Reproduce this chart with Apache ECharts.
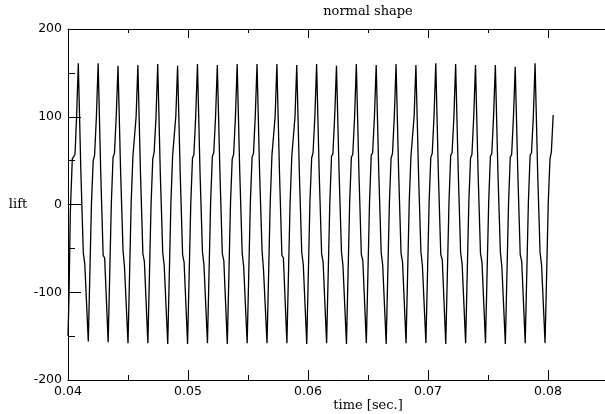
<!DOCTYPE html>
<html>
<head>
<meta charset="utf-8">
<script src="https://cdn.jsdelivr.net/npm/echarts@6/dist/echarts.min.js"></script>
<style>
html,body{margin:0;padding:0;background:#fff;}
#chart{width:605px;height:414px;}
</style>
</head>
<body>
<div id="chart"></div>
<script>
// time axis [s]
var xMin = 0.04, xMax = 0.09, xStep = 0.01;
var yMin = -200, yMax = 200, yStep = 100;
var chartTitle = 'normal shape';
var xName = 'time [sec.]';
var yName = 'lift';

// time samples [s]
var times = [
  0.040000, 0.040083, 0.040192, 0.040358, 0.040583, 0.040717,
  0.040858, 0.041075, 0.041275, 0.041400, 0.041691, 0.041958, 0.042100, 0.042216, 0.042366,
  0.042513, 0.042730, 0.042930, 0.043055, 0.043346, 0.043613, 0.043755, 0.043871, 0.044021,
  0.044168, 0.044385, 0.044585, 0.044710, 0.045001, 0.045268, 0.045410, 0.045526, 0.045676,
  0.045823, 0.046040, 0.046240, 0.046365, 0.046656, 0.046923, 0.047065, 0.047181, 0.047331,
  0.047478, 0.047695, 0.047895, 0.048020, 0.048311, 0.048578, 0.048720, 0.048836, 0.048986,
  0.049133, 0.049350, 0.049550, 0.049675, 0.049966, 0.050233, 0.050375, 0.050491, 0.050641,
  0.050788, 0.051005, 0.051205, 0.051330, 0.051621, 0.051888, 0.052030, 0.052146, 0.052296,
  0.052443, 0.052660, 0.052860, 0.052985, 0.053276, 0.053543, 0.053685, 0.053801, 0.053951,
  0.054098, 0.054315, 0.054515, 0.054640, 0.054931, 0.055198, 0.055340, 0.055456, 0.055606,
  0.055753, 0.055970, 0.056170, 0.056295, 0.056586, 0.056853, 0.056995, 0.057111, 0.057261,
  0.057408, 0.057625, 0.057825, 0.057950, 0.058241, 0.058508, 0.058650, 0.058766, 0.058916,
  0.059063, 0.059280, 0.059480, 0.059605, 0.059896, 0.060163, 0.060305, 0.060421, 0.060571,
  0.060718, 0.060935, 0.061135, 0.061260, 0.061551, 0.061818, 0.061960, 0.062076, 0.062226,
  0.062373, 0.062590, 0.062790, 0.062915, 0.063206, 0.063473, 0.063615, 0.063731, 0.063881,
  0.064028, 0.064245, 0.064445, 0.064570, 0.064861, 0.065128, 0.065270, 0.065386, 0.065536,
  0.065683, 0.065900, 0.066100, 0.066225, 0.066516, 0.066783, 0.066925, 0.067041, 0.067191,
  0.067338, 0.067555, 0.067755, 0.067880, 0.068171, 0.068438, 0.068580, 0.068696, 0.068846,
  0.068993, 0.069210, 0.069410, 0.069535, 0.069826, 0.070093, 0.070235, 0.070351, 0.070501,
  0.070648, 0.070865, 0.071065, 0.071190, 0.071481, 0.071748, 0.071890, 0.072006, 0.072156,
  0.072303, 0.072520, 0.072720, 0.072845, 0.073136, 0.073403, 0.073545, 0.073661, 0.073811,
  0.073958, 0.074175, 0.074375, 0.074500, 0.074791, 0.075058, 0.075200, 0.075316, 0.075466,
  0.075613, 0.075830, 0.076030, 0.076155, 0.076446, 0.076713, 0.076855, 0.076971, 0.077121,
  0.077268, 0.077485, 0.077685, 0.077810, 0.078101, 0.078368, 0.078510, 0.078626, 0.078776,
  0.078923, 0.079140, 0.079340, 0.079465, 0.079756, 0.080023, 0.080165, 0.080281, 0.080431
];

// lift values
var lift = [
  -150, -105, -10, 52, 57, 100,
  161, 36, -55, -68, -156, 3, 50, 56, 100,
  161, 35, -58, -61, -157, 2, 54, 58, 101,
  158, 37, -52, -72, -158, 4, 55, 57, 100,
  159, 36, -56, -65, -158, 1, 52, 60, 99,
  160, 34, -55, -70, -159, 3, 56, 58, 101,
  158, 36, -57, -66, -159, 2, 53, 57, 100,
  160, 35, -54, -69, -158, 4, 55, 59, 100,
  159, 37, -56, -64, -159, 2, 52, 57, 99,
  160, 36, -55, -71, -158, 3, 54, 58, 101,
  160, 35, -52, -75, -158, 3, 56, 58, 100,
  160, 36, -58, -61, -158, 2, 55, 57, 100,
  159, 36, -55, -68, -159, 4, 53, 59, 100,
  160, 35, -56, -66, -158, 2, 55, 58, 101,
  158, 37, -54, -70, -159, 3, 54, 57, 99,
  160, 36, -57, -64, -158, 3, 56, 59, 100,
  159, 35, -55, -69, -159, 2, 53, 58, 100,
  160, 36, -56, -66, -158, 4, 55, 57, 101,
  159, 36, -54, -70, -158, 3, 54, 58, 100,
  161, 35, -57, -63, -159, 2, 56, 59, 99,
  160, 37, -55, -68, -158, 3, 53, 57, 100,
  159, 36, -56, -66, -158, 3, 55, 58, 101,
  159, 35, -54, -71, -159, 2, 54, 57, 100,
  157, 36, -57, -65, -158, 4, 56, 59, 100,
  161, 36, -55, -69, -158, 3, 52, 60, 102
];

var seriesData = times.map(function (t, i) { return [t, lift[i]]; });

var labelFont = { color: '#000', fontFamily: 'DejaVu Sans', fontSize: 12.5 };
var serif = '13px "DejaVu Serif"';

var chart = echarts.init(document.getElementById('chart'), null, { renderer: 'canvas' });
chart.setOption({
  animation: false,
  backgroundColor: '#fff',
  grid: { left: 68, top: 29, width: 600, height: 351, containLabel: false, outerBoundsMode: 'none' },
  xAxis: [
    {
      type: 'value', position: 'bottom', min: xMin, max: xMax, interval: xStep,
      axisLine: { show: true, onZero: false, lineStyle: { color: '#000', width: 1 } },
      axisTick: { show: true, inside: true, length: 10, lineStyle: { color: '#000', width: 1 } },
      minorTick: { show: true, splitNumber: 2, length: 5, lineStyle: { color: '#000', width: 1 } },
      axisLabel: Object.assign({ margin: 5, showMaxLabel: false }, labelFont),
      splitLine: { show: false }
    },
    {
      type: 'value', position: 'top', min: xMin, max: xMax, interval: xStep,
      axisLine: { show: true, onZero: false, lineStyle: { color: '#000', width: 1 } },
      axisTick: { show: true, inside: true, length: 9, lineStyle: { color: '#000', width: 1 } },
      minorTick: { show: true, splitNumber: 2, length: 4, lineStyle: { color: '#000', width: 1 } },
      axisLabel: { show: false },
      splitLine: { show: false }
    }
  ],
  yAxis: {
    type: 'value', min: yMin, max: yMax, interval: yStep,
    axisLine: { show: true, onZero: false, lineStyle: { color: '#000', width: 1 } },
    axisTick: { show: true, inside: true, length: 13, lineStyle: { color: '#000', width: 1 } },
    minorTick: { show: true, splitNumber: 2, length: 7, lineStyle: { color: '#000', width: 1 } },
    axisLabel: Object.assign({ margin: 6 }, labelFont),
    splitLine: { show: false }
  },
  graphic: [
    { type: 'text', x: 368, y: 12, style: { text: chartTitle, font: serif, fill: '#000', align: 'center', verticalAlign: 'middle', textAlign: 'center', textVerticalAlign: 'middle' } },
    { type: 'text', x: 368, y: 406, style: { text: xName, font: serif, fill: '#000', align: 'center', verticalAlign: 'middle', textAlign: 'center', textVerticalAlign: 'middle' } },
    { type: 'text', x: 18, y: 205, style: { text: yName, font: serif, fill: '#000', align: 'center', verticalAlign: 'middle', textAlign: 'center', textVerticalAlign: 'middle' } }
  ],
  series: [{
    type: 'line',
    xAxisIndex: 0,
    data: seriesData,
    showSymbol: false,
    symbol: 'none',
    smooth: false,
    lineStyle: { color: '#000', width: 1.3 },
    clip: true
  }]
});
</script>
</body>
</html>
